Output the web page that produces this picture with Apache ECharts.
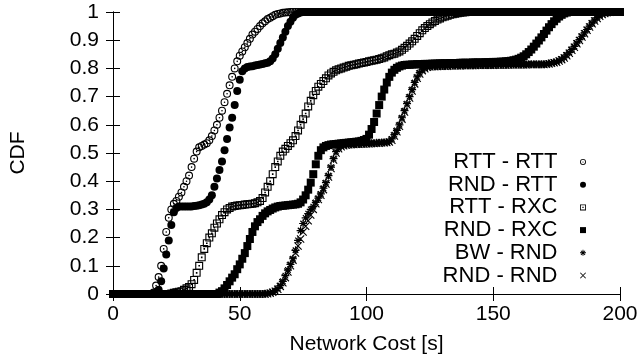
<!DOCTYPE html>
<html>
<head>
<meta charset="utf-8">
<script src="https://cdn.jsdelivr.net/npm/echarts@6/dist/echarts.min.js"></script>
<style>
  html, body { margin: 0; padding: 0; background: #fff; }
  #chart { width: 641px; height: 364px; }
</style>
</head>
<body>
<div id="chart"></div>
<script>
// network cost [s], one sample per second
const cost = [
  0,1,2,3,4,5,6,7,8,9,
  10,11,12,13,14,15,16,17,18,19,
  20,21,22,23,24,25,26,27,28,29,
  30,31,32,33,34,35,36,37,38,39,
  40,41,42,43,44,45,46,47,48,49,
  50,51,52,53,54,55,56,57,58,59,
  60,61,62,63,64,65,66,67,68,69,
  70,71,72,73,74,75,76,77,78,79,
  80,81,82,83,84,85,86,87,88,89,
  90,91,92,93,94,95,96,97,98,99,
  100,101,102,103,104,105,106,107,108,109,
  110,111,112,113,114,115,116,117,118,119,
  120,121,122,123,124,125,126,127,128,129,
  130,131,132,133,134,135,136,137,138,139,
  140,141,142,143,144,145,146,147,148,149,
  150,151,152,153,154,155,156,157,158,159,
  160,161,162,163,164,165,166,167,168,169,
  170,171,172,173,174,175,176,177,178,179,
  180,181,182,183,184,185,186,187,188,189,
  190,191,192,193,194,195,196,197,198,199,
  200
];

const rttRtt = [
  0,0,0,0,0,0,0,0,0,0,
  0,0,0,0,0,0,0.005,0.03,0.06,0.1,
  0.16,0.22,0.27,0.3,0.32,0.33,0.345,0.36,0.38,0.4,
  0.42,0.45,0.48,0.505,0.52,0.525,0.53,0.535,0.545,0.56,
  0.58,0.6,0.625,0.65,0.68,0.71,0.74,0.77,0.8,0.825,
  0.845,0.86,0.875,0.89,0.905,0.92,0.93,0.94,0.95,0.96,
  0.967,0.975,0.98,0.985,0.99,0.993,0.995,0.997,0.998,0.999,
  1,1,1,1,1,1,1,1,1,1,
  1,1,1,1,1,1,1,1,1,1,
  1,1,1,1,1,1,1,1,1,1,
  1,1,1,1,1,1,1,1,1,1,
  1,1,1,1,1,1,1,1,1,1,
  1,1,1,1,1,1,1,1,1,1,
  1,1,1,1,1,1,1,1,1,1,
  1,1,1,1,1,1,1,1,1,1,
  1,1,1,1,1,1,1,1,1,1,
  1,1,1,1,1,1,1,1,1,1,
  1,1,1,1,1,1,1,1,1,1,
  1,1,1,1,1,1,1,1,1,1,
  1,1,1,1,1,1,1,1,1,1,
  1
];

const rndRtt = [
  0,0,0,0,0,0,0,0,0,0,
  0,0,0,0,0,0,0,0.005,0.015,0.045,
  0.09,0.14,0.19,0.245,0.29,0.305,0.31,0.31,0.31,0.31,
  0.31,0.31,0.312,0.313,0.315,0.317,0.32,0.325,0.335,0.35,
  0.38,0.41,0.44,0.47,0.51,0.55,0.59,0.625,0.67,0.72,
  0.76,0.79,0.8,0.805,0.807,0.808,0.81,0.812,0.814,0.816,
  0.818,0.82,0.825,0.835,0.85,0.87,0.89,0.91,0.93,0.95,
  0.965,0.98,0.99,0.995,0.998,1,1,1,1,1,
  1,1,1,1,1,1,1,1,1,1,
  1,1,1,1,1,1,1,1,1,1,
  1,1,1,1,1,1,1,1,1,1,
  1,1,1,1,1,1,1,1,1,1,
  1,1,1,1,1,1,1,1,1,1,
  1,1,1,1,1,1,1,1,1,1,
  1,1,1,1,1,1,1,1,1,1,
  1,1,1,1,1,1,1,1,1,1,
  1,1,1,1,1,1,1,1,1,1,
  1,1,1,1,1,1,1,1,1,1,
  1,1,1,1,1,1,1,1,1,1,
  1,1,1,1,1,1,1,1,1,1,
  1
];

const rttRxc = [
  0,0,0,0,0,0,0,0,0,0,
  0,0,0,0,0,0,0,0,0,0,
  0,0,0,0.002,0.004,0.006,0.008,0.01,0.015,0.02,
  0.025,0.035,0.05,0.075,0.1,0.13,0.16,0.18,0.2,0.215,
  0.235,0.25,0.265,0.28,0.29,0.3,0.305,0.31,0.312,0.314,
  0.315,0.316,0.317,0.318,0.319,0.32,0.322,0.325,0.33,0.34,
  0.36,0.38,0.4,0.425,0.45,0.47,0.49,0.505,0.515,0.525,
  0.535,0.545,0.56,0.58,0.6,0.62,0.64,0.665,0.685,0.705,
  0.72,0.735,0.745,0.755,0.765,0.775,0.782,0.788,0.793,0.797,
  0.8,0.803,0.806,0.809,0.811,0.813,0.815,0.817,0.819,0.821,
  0.823,0.825,0.827,0.829,0.831,0.833,0.836,0.839,0.843,0.847,
  0.85,0.852,0.856,0.86,0.866,0.873,0.88,0.888,0.896,0.905,
  0.915,0.925,0.935,0.943,0.95,0.957,0.963,0.968,0.973,0.977,
  0.981,0.984,0.987,0.99,0.992,0.994,0.996,0.997,0.998,0.999,
  1,1,1,1,1,1,1,1,1,1,
  1,1,1,1,1,1,1,1,1,1,
  1,1,1,1,1,1,1,1,1,1,
  1,1,1,1,1,1,1,1,1,1,
  1,1,1,1,1,1,1,1,1,1,
  1,1,1,1,1,1,1,1,1,1,
  1
];

const rndRxc = [
  0,0,0,0,0,0,0,0,0,0,
  0,0,0,0,0,0,0,0,0,0,
  0,0,0,0,0,0,0,0,0,0,
  0,0,0,0,0,0,0,0,0,0,
  0,0,0.005,0.01,0.02,0.032,0.045,0.058,0.07,0.088,
  0.105,0.125,0.145,0.17,0.195,0.22,0.24,0.255,0.265,0.277,
  0.286,0.293,0.298,0.303,0.307,0.31,0.312,0.313,0.314,0.315,
  0.316,0.317,0.318,0.32,0.325,0.335,0.35,0.37,0.395,0.425,
  0.46,0.49,0.51,0.52,0.525,0.528,0.53,0.531,0.532,0.533,
  0.534,0.535,0.536,0.537,0.538,0.539,0.54,0.541,0.543,0.546,
  0.55,0.565,0.585,0.61,0.64,0.67,0.7,0.725,0.75,0.77,
  0.785,0.795,0.802,0.807,0.81,0.812,0.813,0.813,0.814,0.814,
  0.815,0.815,0.815,0.816,0.816,0.816,0.817,0.817,0.817,0.818,
  0.818,0.818,0.818,0.819,0.819,0.819,0.819,0.82,0.82,0.82,
  0.82,0.82,0.821,0.821,0.821,0.821,0.821,0.822,0.822,0.822,
  0.823,0.823,0.823,0.824,0.824,0.825,0.826,0.827,0.829,0.831,
  0.834,0.838,0.843,0.85,0.858,0.867,0.877,0.888,0.899,0.91,
  0.922,0.934,0.946,0.957,0.967,0.976,0.984,0.99,0.995,0.998,
  1,1,1,1,1,1,1,1,1,1,
  1,1,1,1,1,1,1,1,1,1,
  1
];

const bwRnd = [
  0,0,0,0,0,0,0,0,0,0,
  0,0,0,0,0,0,0,0,0,0,
  0,0,0,0,0,0,0,0,0,0,
  0,0,0,0,0,0,0,0,0,0,
  0,0,0,0,0,0,0,0,0,0,
  0,0,0,0,0,0,0,0,0,0,
  0.001,0.002,0.004,0.007,0.012,0.02,0.03,0.045,0.065,0.085,
  0.105,0.125,0.155,0.19,0.225,0.25,0.27,0.285,0.3,0.31,
  0.325,0.34,0.355,0.375,0.395,0.42,0.45,0.48,0.505,0.518,
  0.525,0.528,0.53,0.53,0.531,0.531,0.532,0.532,0.533,0.533,
  0.534,0.534,0.535,0.535,0.536,0.536,0.537,0.537,0.538,0.54,
  0.55,0.565,0.58,0.6,0.625,0.65,0.675,0.7,0.725,0.75,
  0.77,0.785,0.795,0.8,0.805,0.807,0.808,0.808,0.808,0.809,
  0.809,0.809,0.809,0.81,0.81,0.81,0.81,0.81,0.81,0.811,
  0.811,0.811,0.811,0.811,0.812,0.812,0.812,0.812,0.812,0.812,
  0.812,0.813,0.813,0.813,0.813,0.813,0.813,0.814,0.814,0.814,
  0.814,0.814,0.814,0.814,0.815,0.815,0.815,0.815,0.815,0.815,
  0.815,0.816,0.817,0.819,0.821,0.824,0.828,0.833,0.84,0.848,
  0.857,0.867,0.878,0.89,0.902,0.914,0.926,0.938,0.95,0.961,
  0.971,0.98,0.987,0.992,0.996,0.998,0.999,1,1,1,
  1
];

const rndRnd = [
  0,0,0,0,0,0,0,0,0,0,
  0,0,0,0,0,0,0,0,0,0,
  0,0,0,0,0,0,0,0,0,0,
  0,0,0,0,0,0,0,0,0,0,
  0,0,0,0,0,0,0,0,0,0,
  0,0,0,0,0,0,0,0,0,0,
  0,0.001,0.003,0.006,0.01,0.017,0.027,0.04,0.058,0.078,
  0.1,0.12,0.145,0.17,0.195,0.22,0.24,0.26,0.28,0.3,
  0.32,0.335,0.35,0.37,0.39,0.415,0.445,0.475,0.5,0.515,
  0.522,0.526,0.528,0.529,0.53,0.53,0.531,0.531,0.532,0.532,
  0.533,0.533,0.534,0.534,0.535,0.535,0.536,0.536,0.537,0.539,
  0.545,0.56,0.575,0.595,0.62,0.645,0.67,0.695,0.72,0.745,
  0.765,0.78,0.792,0.799,0.804,0.806,0.807,0.807,0.807,0.808,
  0.808,0.808,0.808,0.809,0.809,0.809,0.809,0.809,0.81,0.81,
  0.81,0.81,0.81,0.81,0.811,0.811,0.811,0.811,0.811,0.811,
  0.811,0.812,0.812,0.812,0.812,0.812,0.812,0.813,0.813,0.813,
  0.813,0.813,0.813,0.813,0.814,0.814,0.814,0.814,0.814,0.814,
  0.814,0.815,0.816,0.818,0.82,0.822,0.826,0.831,0.837,0.845,
  0.854,0.864,0.875,0.887,0.899,0.911,0.923,0.935,0.947,0.958,
  0.968,0.977,0.985,0.991,0.995,0.998,0.999,1,1,1,
  1
];

const seriesNames = ["RTT - RTT", "RND - RTT", "RTT - RXC", "RND - RXC", "BW - RND", "RND - RND"];
const seriesValues = [rttRtt, rndRtt, rttRxc, rndRxc, bwRnd, rndRnd];
const xTicks = { min: 0, max: 200, interval: 50 };
const yTicks = { min: 0, max: 1, interval: 0.1 };

// gnuplot-like point types
const ringDot = "path://M0,-5A5,5 0 1,1 0,5A5,5 0 1,1 0,-5Z" +
  "M0,-3.6A3.6,3.6 0 1,0 0,3.6A3.6,3.6 0 1,0 0,-3.6Z" +
  "M0,-1A1,1 0 1,1 0,1A1,1 0 1,1 0,-1Z";
const boxDot = "path://M-5,-5L5,-5L5,5L-5,5Z" +
  "M-3.6,-3.6L-3.6,3.6L3.6,3.6L3.6,-3.6Z" +
  "M-1,-1L1,-1L1,1L-1,1Z";
const box = "path://M-5,-5L5,-5L5,5L-5,5Z";
const star = "path://M-0.75,-5L0.75,-5L0.75,5L-0.75,5Z" +
  "M-5,-0.75L5,-0.75L5,0.75L-5,0.75Z" +
  "M-2.9,-4L4,2.9L2.9,4L-4,-2.9Z" +
  "M4,-2.9L-2.9,4L-4,2.9L2.9,-4Z";
const cross = "path://M-4.45,-5.55L5.55,4.45L4.45,5.55L-5.55,-4.45Z" +
  "M5.55,-4.45L-4.45,5.55L-5.55,4.45L4.45,-5.55Z";
const symbols = [ringDot, "circle", boxDot, box, star, cross];

const font = "Liberation Sans";
const chart = echarts.init(document.getElementById("chart"));

const axisCommon = {
  axisLine: { show: true, lineStyle: { color: "#000", width: 1 } },
  axisTick: { show: true, inside: true, length: 7, lineStyle: { color: "#000" } },
  splitLine: { show: false },
};

chart.setOption({
  animation: false,
  backgroundColor: "#fff",
  grid: { left: 111, right: 21, top: 12, bottom: 70 },
  xAxis: [
    Object.assign({
      type: "value", position: "bottom",
      min: xTicks.min, max: xTicks.max, interval: xTicks.interval,
      name: "Network Cost [s]", nameLocation: "middle", nameGap: 40,
      nameTextStyle: { fontFamily: font, fontSize: 21, color: "#000" },
      axisLabel: { fontFamily: font, fontSize: 21, color: "#000", margin: 10 },
    }, axisCommon),
    Object.assign({
      type: "value", position: "top",
      min: xTicks.min, max: xTicks.max, interval: xTicks.interval,
      axisLabel: { show: false },
    }, axisCommon),
  ],
  yAxis: [
    Object.assign({
      type: "value", position: "left",
      min: yTicks.min, max: yTicks.max, interval: yTicks.interval,
      name: "CDF", nameLocation: "middle", nameGap: 84, nameRotate: 90,
      nameTextStyle: { fontFamily: font, fontSize: 21, color: "#000" },
      axisLabel: { fontFamily: font, fontSize: 21, color: "#000", margin: 14 },
    }, axisCommon),
    Object.assign({
      type: "value", position: "right",
      min: yTicks.min, max: yTicks.max, interval: yTicks.interval,
      axisLabel: { show: false },
    }, axisCommon),
  ],
  legend: {
    orient: "vertical",
    align: "right",
    right: 55,
    top: 151,
    padding: 0,
    itemGap: 0.7,
    itemWidth: 41,
    itemHeight: 6,
    symbolKeepAspect: true,
    textStyle: { fontFamily: font, fontSize: 22, lineHeight: 22, color: "#000" },
    data: seriesNames,
  },
  series: seriesNames.map((name, k) => ({
    name: name,
    type: "scatter",
    symbol: symbols[k],
    symbolSize: 8,
    symbolKeepAspect: true,
    clip: false,
    itemStyle: { color: "#000", opacity: 1 },
    emphasis: { disabled: true },
    data: cost.map((c, i) => [c, seriesValues[k][i]]),
  })),
});
</script>
</body>
</html>
